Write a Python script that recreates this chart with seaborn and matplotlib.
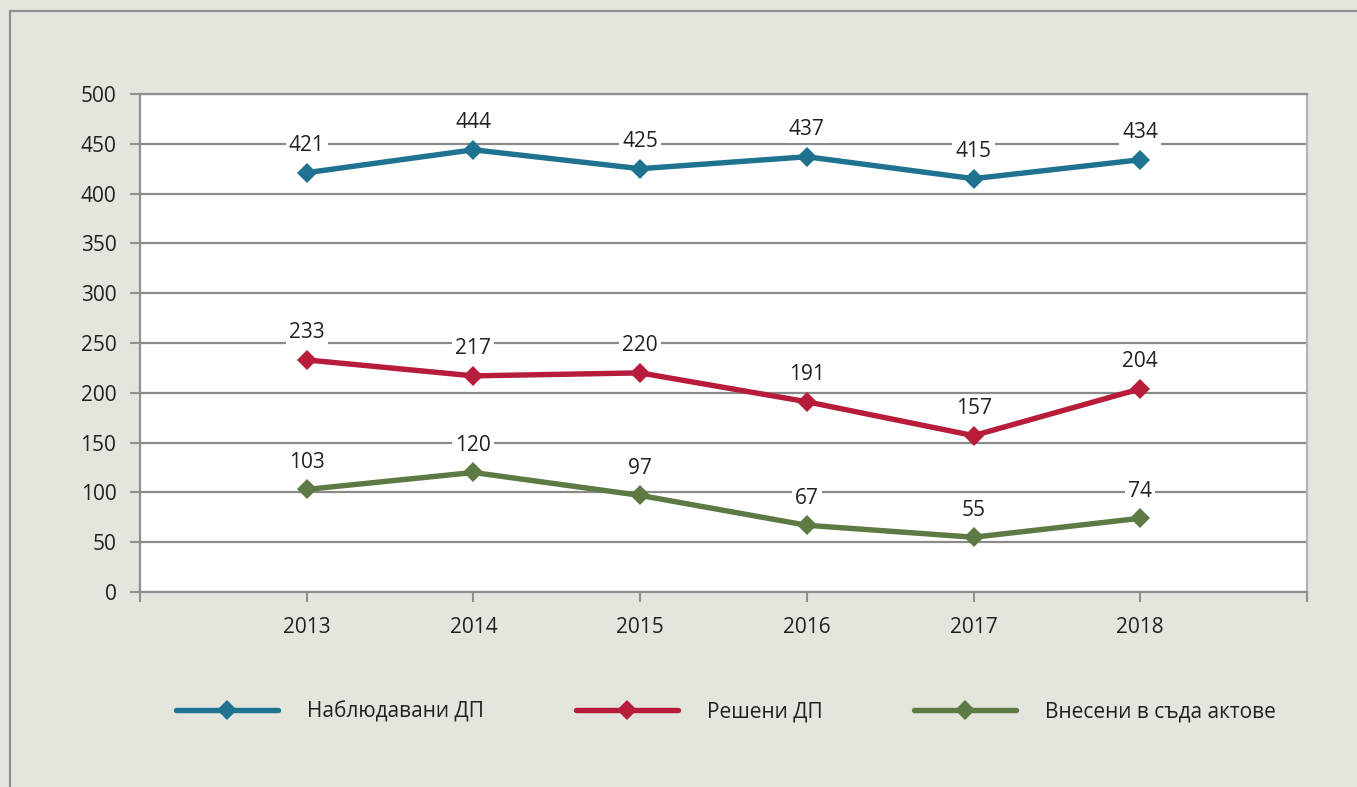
import pandas as pd
import matplotlib.pyplot as plt
import seaborn as sns
from matplotlib.patches import Rectangle

# Data
years = [2013, 2014, 2015, 2016, 2017, 2018]
observed = [421, 444, 425, 437, 415, 434]
resolved = [233, 217, 220, 191, 157, 204]
to_court = [103, 120, 97, 67, 55, 74]
series_names = ['Наблюдавани ДП', 'Решени ДП', 'Внесени в съда актове']
colors = ['#1f7390', '#b71c3a', '#5e7a44']

df = pd.DataFrame({
    'year': years * 3,
    'value': observed + resolved + to_court,
    'series': [s for s in series_names for _ in years],
})

sns.set_theme(style='white')
plt.rcParams['font.family'] = ['Open Sans', 'DejaVu Sans']
text_color = '#231f20'
bg = '#e4e6de'

fig = plt.figure(figsize=(13.57, 7.87), dpi=100, facecolor=bg)
ax = fig.add_axes([140 / 1357, 1 - 592 / 787, (1307 - 140) / 1357, (592 - 94) / 787])
ax.set_facecolor('white')

# outer frame (open on right and bottom)
fig.patches.append(Rectangle((9.5 / 1357, -0.1), 2, 1.1 - 11.5 / 787,
                             transform=fig.transFigure, fill=False,
                             edgecolor='#8f8f8f', lw=1.6, zorder=0))

sns.lineplot(data=df, x='year', y='value', hue='series', style='series',
             palette=dict(zip(series_names, colors)),
             markers={s: 'D' for s in series_names}, dashes=False,
             markersize=10.5, markeredgewidth=0, linewidth=3.9, ax=ax, zorder=3)

# data labels above each point, with white box to cut gridlines
for s, vals in zip(series_names, [observed, resolved, to_court]):
    for x, v in zip(years, vals):
        ax.annotate(str(v), (x, v), xytext=(0, 19.5), textcoords='offset points',
                    ha='center', va='center', fontsize=15, color=text_color,
                    bbox=dict(boxstyle='square,pad=0.15', fc='white', ec='none'),
                    zorder=4)

ax.set_xlim(2012, 2019)
ax.set_ylim(0, 500)
ax.set_xticks(range(2012, 2020))
ax.set_xticklabels([''] + [str(y) for y in years] + [''])
ax.set_yticks(range(0, 501, 50))
ax.set_xlabel('')
ax.set_ylabel('')

ax.yaxis.grid(True, color='#8a8a8a', lw=1.6, zorder=1)
ax.xaxis.grid(False)
ax.set_axisbelow(True)
ax.tick_params(axis='both', which='both', length=7, width=1.5, color='#8f8f8f',
               labelsize=15, labelcolor=text_color)
ax.tick_params(axis='y', direction='out', left=True, pad=10)
ax.tick_params(axis='x', direction='out', bottom=True, pad=11)

for side in ['left', 'top', 'bottom']:
    ax.spines[side].set_color('#8f8f8f')
    ax.spines[side].set_linewidth(1.6)
ax.spines['right'].set_color('#b3b3b3')
ax.spines['right'].set_linewidth(1.6)

handles, labels = ax.get_legend_handles_labels()
ax.get_legend().remove()
fig.legend(handles, labels, loc='center', bbox_to_anchor=(0.535, 1 - 712 / 787),
           ncol=3, frameon=False, fontsize=15, labelcolor=text_color,
           handlelength=4.9, handletextpad=1.4, columnspacing=4.4)

fig.savefig('out.png', dpi=100, facecolor=bg)
